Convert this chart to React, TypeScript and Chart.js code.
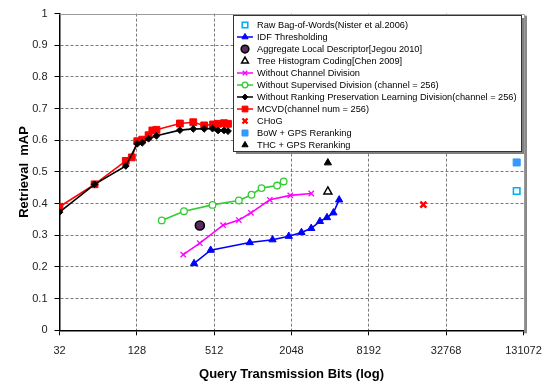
import React, { useEffect, useRef } from 'react';
import { Chart, registerables } from 'chart.js';
import { drawPoint } from 'chart.js/helpers';

Chart.register(...registerables);

const FONT = "'Liberation Sans', Arial, sans-serif";

const xTicks = [32, 128, 512, 2048, 8192, 32768, 131072];
const yTicks = [0, 0.1, 0.2, 0.3, 0.4, 0.5, 0.6, 0.7, 0.8, 0.9, 1];

const rawBowX = [116000];
const rawBowY = [0.44];

const idfX = [357, 481, 969, 1458, 1952, 2450, 2915, 3410, 3870, 4340, 4810];
const idfY = [0.211, 0.253, 0.277, 0.286, 0.297, 0.309, 0.322, 0.344, 0.356, 0.371, 0.412];

const aggX = [396];
const aggY = [0.331];

const thcX = [3930];
const thcY = [0.438];

const noChanX = [294, 396, 600, 797, 990, 1388, 2005, 2915];
const noChanY = [0.239, 0.275, 0.332, 0.348, 0.371, 0.412, 0.426, 0.432];

const noSupX = [200, 298, 497, 797, 1000, 1196, 1583, 1780];
const noSupY = [0.347, 0.376, 0.396, 0.41, 0.428, 0.449, 0.457, 0.47];

const noRankX = [32, 60, 105, 129, 141, 158, 182, 277, 352, 428, 497, 549, 611, 656];
const noRankY = [0.373, 0.461, 0.519, 0.589, 0.592, 0.605, 0.614, 0.632, 0.636, 0.636, 0.637, 0.631, 0.631, 0.629];

const mcvdX = [32, 60, 105, 117, 129, 141, 158, 169, 182, 277, 352, 428, 502, 549, 611, 656];
const mcvdY = [0.39, 0.461, 0.535, 0.546, 0.597, 0.602, 0.616, 0.631, 0.633, 0.653, 0.657, 0.647, 0.65, 0.652, 0.654, 0.652];

const chogX = [21760];
const chogY = [0.397];

const bowGpsX = [116000];
const bowGpsY = [0.53];

const thcGpsX = [3930];
const thcGpsY = [0.529];

const pts = (xs: number[], ys: number[]) => xs.map((x, i) => ({ x, y: ys[i] }));

type Series = {
  label: string;
  xs: number[];
  ys: number[];
  line: boolean;
  color: string;
  fill: string;
  style: string;
  radius: number;
  pw: number;
};

const series: Series[] = [
  { label: 'Raw Bag-of-Words(Nister et al.2006)', xs: rawBowX, ys: rawBowY, line: false, color: '#00b0f0', fill: '#ffffff', style: 'rect', radius: 4.6, pw: 1.6 },
  { label: 'IDF Thresholding', xs: idfX, ys: idfY, line: true, color: '#0000ff', fill: '#0000ff', style: 'triangle', radius: 4.2, pw: 1 },
  { label: 'Aggregate Local Descriptor[Jegou 2010]', xs: aggX, ys: aggY, line: false, color: '#000000', fill: '#5e2a62', style: 'circle', radius: 4.5, pw: 1.6 },
  { label: 'Tree Histogram Coding[Chen 2009]', xs: thcX, ys: thcY, line: false, color: '#000000', fill: '#ffffff', style: 'triangle', radius: 4.6, pw: 1.5 },
  { label: 'Without Channel Division', xs: noChanX, ys: noChanY, line: true, color: '#ff00ff', fill: '#ff00ff', style: 'crossRot', radius: 3.8, pw: 1.3 },
  { label: 'Without Supervised Division (channel = 256)', xs: noSupX, ys: noSupY, line: true, color: '#33cc33', fill: '#ffffff', style: 'circle', radius: 3.3, pw: 1.3 },
  { label: 'Without Ranking Preservation Learning Division(channel = 256)', xs: noRankX, ys: noRankY, line: true, color: '#000000', fill: '#000000', style: 'rectRot', radius: 3.4, pw: 1 },
  { label: 'MCVD(channel num = 256)', xs: mcvdX, ys: mcvdY, line: true, color: '#ff0000', fill: '#ff0000', style: 'rect', radius: 4.8, pw: 1 },
  { label: 'CHoG', xs: chogX, ys: chogY, line: false, color: '#ff0000', fill: '#ff0000', style: 'crossRot', radius: 4.2, pw: 2.4 },
  { label: 'BoW + GPS Reranking', xs: bowGpsX, ys: bowGpsY, line: false, color: '#3399ff', fill: '#3399ff', style: 'rect', radius: 5, pw: 1 },
  { label: 'THC + GPS Reranking', xs: thcGpsX, ys: thcGpsY, line: false, color: '#000000', fill: '#000000', style: 'triangle', radius: 4.2, pw: 1 },
];

const frame = { left: 59.5, right: 523.5, top: 10.3, bottom: 330.3 };

const decorPlugin = {
  id: 'decor',
  afterDraw(chart: any) {
    const ctx = chart.ctx as CanvasRenderingContext2D;
    const a = chart.chartArea;
    ctx.save();
    // plot area frame (top + right) with shadow
    ctx.fillStyle = '#8a8a8a';
    ctx.fillRect(a.right + 0.5, a.top + 2, 3, a.bottom - a.top + 1);
    ctx.strokeStyle = '#9a9a9a';
    ctx.lineWidth = 1;
    ctx.beginPath();
    ctx.moveTo(a.left, Math.round(a.top) + 0.5);
    ctx.lineTo(Math.round(a.right) + 0.5, Math.round(a.top) + 0.5);
    ctx.lineTo(Math.round(a.right) + 0.5, a.bottom);
    ctx.stroke();

    // legend
    const lx = 233, ly = 15, lw = 288, lh = 136;
    ctx.fillStyle = '#808080';
    ctx.fillRect(lx + 3, ly + 3, lw, lh);
    ctx.fillStyle = '#ffffff';
    ctx.fillRect(lx, ly, lw, lh);
    ctx.strokeStyle = '#333333';
    ctx.strokeRect(lx + 0.5, ly + 0.5, lw, lh);

    let longest = series[0].label;
    series.forEach((s) => { if (s.label.length > longest.length) longest = s.label; });
    ctx.font = `10px ${FONT}`;
    const w10 = ctx.measureText(longest).width;
    const fs = Math.max(8, Math.min(11, (10 * 260) / w10));
    ctx.font = `${fs}px ${FONT}`;
    ctx.textBaseline = 'middle';
    ctx.textAlign = 'left';
    series.forEach((s, i) => {
      const cy = 25 + i * 12;
      const cx = 245;
      if (s.line) {
        ctx.strokeStyle = s.color;
        ctx.lineWidth = 1.5;
        ctx.beginPath();
        ctx.moveTo(cx - 8, cy);
        ctx.lineTo(cx + 8, cy);
        ctx.stroke();
      }
      ctx.strokeStyle = s.color;
      ctx.fillStyle = s.fill;
      ctx.lineWidth = s.pw;
      drawPoint(ctx, { pointStyle: s.style as any, radius: s.radius * 0.85, rotation: 0, borderWidth: s.pw }, cx, cy);
      ctx.fillStyle = '#000000';
      ctx.fillText(s.label, 257, cy + 0.5);
    });
    ctx.restore();
  },
};

export default function App() {
  const ref = useRef<HTMLCanvasElement | null>(null);
  useEffect(() => {
    document.body.style.margin = '0';
    const canvas = ref.current;
    if (!canvas) return;
    const chart = new Chart(canvas, {
      type: 'line',
      data: {
        datasets: series.map((s) => ({
          label: s.label,
          data: pts(s.xs, s.ys),
          showLine: s.line,
          borderColor: s.color,
          backgroundColor: s.fill,
          borderWidth: 1.6,
          pointStyle: s.style as any,
          pointRadius: s.radius,
          pointBorderColor: s.color,
          pointBackgroundColor: s.fill,
          pointBorderWidth: s.pw,
          tension: 0,
          fill: false,
        })),
      },
      options: {
        responsive: false,
        animation: false,
        events: [],
        layout: { padding: { left: 0, right: 552 - frame.right, top: frame.top, bottom: 0 } },
        plugins: { legend: { display: false }, tooltip: { enabled: false } },
        scales: {
          x: {
            type: 'logarithmic',
            min: 32,
            max: 131072,
            afterBuildTicks: (s: any) => { s.ticks = xTicks.map((v) => ({ value: v })); },
            afterFit: (s: any) => { s.height = 385 - frame.bottom; },
            ticks: {
              callback: (v: any) => String(v),
              font: { family: FONT, size: 11 },
              color: '#222222',
              padding: 9,
              maxRotation: 0,
              autoSkip: false,
            },
            grid: {
              color: (c: any) => (c.tick && (c.tick.value === 32 || c.tick.value === 131072) ? 'rgba(0,0,0,0)' : '#7a7a7a'),
              tickColor: '#000000',
              tickLength: 5,
              lineWidth: 1,
            },
            border: { color: '#000000', width: 1.5, dash: [3, 2] },
            title: {
              display: true,
              text: 'Query Transmission Bits (log)',
              font: { family: FONT, size: 13, weight: 'bold' },
              color: '#000000',
              padding: { top: 0, bottom: 3 },
            },
          },
          y: {
            min: 0,
            max: 1,
            afterBuildTicks: (s: any) => { s.ticks = yTicks.map((v) => ({ value: v })); },
            afterFit: (s: any) => { s.width = frame.left; },
            ticks: {
              callback: (v: any) => String(Number(Number(v).toFixed(1))),
              font: { family: FONT, size: 11 },
              color: '#222222',
              padding: 7,
            },
            grid: {
              color: (c: any) => (c.tick && (c.tick.value === 0 || c.tick.value === 1) ? 'rgba(0,0,0,0)' : '#7a7a7a'),
              tickColor: '#000000',
              tickLength: 5,
              lineWidth: 1,
            },
            border: { color: '#000000', width: 1.5, dash: [3, 2] },
            title: {
              display: true,
              text: 'Retrieval  mAP',
              font: { family: FONT, size: 13, weight: 'bold' },
              color: '#000000',
              padding: { top: 17, bottom: 0 },
            },
          },
        },
      },
      plugins: [decorPlugin],
    } as any);
    return () => chart.destroy();
  }, []);
  return <canvas ref={ref} width={552} height={385} style={{ display: 'block' }} />;
}
